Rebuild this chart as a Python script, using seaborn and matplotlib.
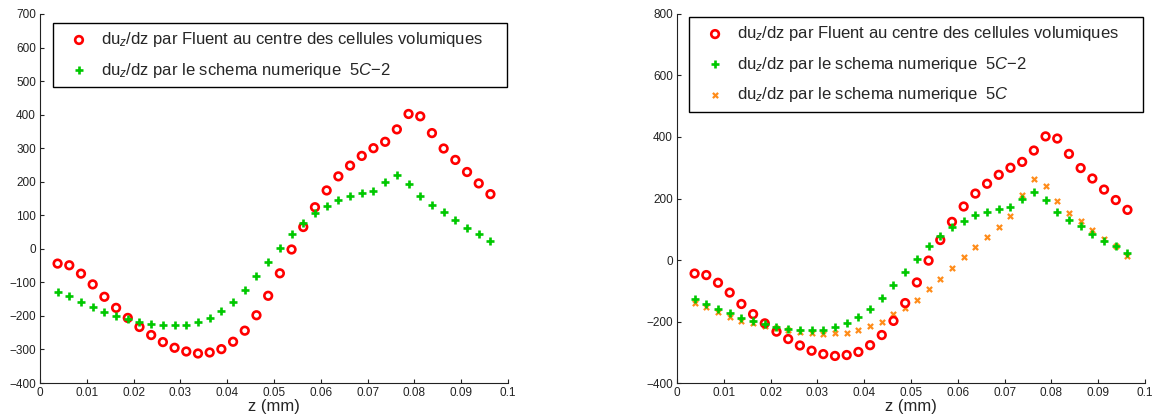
import numpy as np
import pandas as pd
import matplotlib
matplotlib.use('Agg')
import matplotlib.pyplot as plt
import seaborn as sns

# z positions (mm), cell centres
z_start, z_step, n_pts = 0.00375, 0.0025, 38
z = np.round(z_start + z_step * np.arange(n_pts), 5)

# du_z/dz from Fluent (cell centres)
fluent = [-44, -49, -74, -106, -143, -176, -206, -233, -257, -278,
          -295, -306, -312, -309, -299, -277, -244, -198, -140, -73,
          -2, 65, 124, 174, 216, 248, 277, 300, 319, 356,
          402, 395, 345, 299, 265, 229, 195, 163]

# numerical scheme 5C-2
scheme_5c2 = [-128, -142, -158, -173, -187, -199, -208, -218, -224, -228,
              -228, -226, -217, -205, -185, -158, -123, -82, -40, 3,
              44, 78, 106, 128, 146, 156, 166, 171, 200, 221,
              194, 156, 130, 109, 86, 61, 45, 24]

# numerical scheme 5C
scheme_5c = [-141, -153, -170, -186, -197, -206, -216, -222, -228, -234,
             -237, -240, -238, -236, -228, -216, -200, -177, -157, -129,
             -95, -61, -26, 11, 42, 75, 106, 143, 212, 262,
             241, 191, 154, 127, 98, 68, 44, 13]

x_ticks = [0, 0.01, 0.02, 0.03, 0.04, 0.05, 0.06, 0.07, 0.08, 0.09, 0.1]
x_tick_labels = ['0', '0.01', '0.02', '0.03', '0.04', '0.05', '0.06',
                 '0.07', '0.08', '0.09', '0.1']
y_ticks_left = list(range(-400, 701, 100))
y_ticks_right = list(range(-400, 801, 200))

lbl_fluent = r'du$_z$/dz par Fluent au centre des cellules volumiques'
lbl_5c2 = r'du$_z$/dz par le schema numerique  $\mathit{5C{-}2}$'
lbl_5c = r'du$_z$/dz par le schema numerique  $\mathit{5C}$'

RED = '#ff0000'
GREEN = '#00c800'
ORANGE = '#ff8c1a'

sns.set_style('ticks')
plt.rcParams['font.family'] = ['Liberation Sans', 'DejaVu Sans']
plt.rcParams['mathtext.fontset'] = 'custom'
plt.rcParams['mathtext.rm'] = 'Liberation Sans'
plt.rcParams['mathtext.it'] = 'Liberation Sans:italic'
plt.rcParams['axes.unicode_minus'] = True

df = pd.DataFrame({'z': z, 'fluent': fluent, '5c2': scheme_5c2, '5c': scheme_5c})


def draw_series(ax, col, label, kind):
    if kind == 'o':
        sns.scatterplot(data=df, x='z', y=col, ax=ax, marker='o', s=30,
                        facecolors='none', edgecolor=RED, linewidth=1.9,
                        label=label, zorder=3)
    elif kind == '+':
        sns.scatterplot(data=df, x='z', y=col, ax=ax, marker='+', s=30,
                        color=GREEN, linewidth=1.9, label=label, zorder=4)
    else:
        sns.scatterplot(data=df, x='z', y=col, ax=ax, marker='x', s=14,
                        color=ORANGE, linewidth=1.6, label=label, zorder=2)


def style_axes(ax, yticks, ylim):
    ax.set_xlim(0, 0.1)
    ax.set_ylim(*ylim)
    ax.set_xticks(x_ticks)
    ax.set_xticklabels(x_tick_labels)
    ax.set_yticks(yticks)
    ax.set_yticklabels([f'{v}'.replace('-', '\u2212') for v in yticks])
    ax.tick_params(direction='in', length=3, width=0.8, labelsize=8.5,
                   colors='#222222', pad=3)
    ax.set_xlabel('z (mm)', fontsize=12, labelpad=0)
    ax.set_ylabel('')
    for sp in ['left', 'bottom']:
        ax.spines[sp].set_color('#222222')
        ax.spines[sp].set_linewidth(0.8)
    sns.despine(ax=ax)


fig = plt.figure(figsize=(11.54, 4.19), dpi=100)
ax1 = fig.add_axes([0.0347, 0.0859, 0.4055, 0.8807])
ax2 = fig.add_axes([0.5867, 0.0859, 0.4055, 0.8807])

draw_series(ax1, 'fluent', lbl_fluent, 'o')
draw_series(ax1, '5c2', lbl_5c2, '+')
style_axes(ax1, y_ticks_left, (-400, 700))

draw_series(ax2, 'fluent', lbl_fluent, 'o')
draw_series(ax2, '5c2', lbl_5c2, '+')
draw_series(ax2, '5c', lbl_5c, 'x')
style_axes(ax2, y_ticks_right, (-400, 800))

leg_kw = dict(loc='upper left', mode='expand', fancybox=False, framealpha=1,
              edgecolor='black', fontsize=12, borderaxespad=0,
              handletextpad=0.2, handlelength=2.2, labelspacing=0.68,
              borderpad=0.45, markerscale=1.0)
l1 = ax1.legend(bbox_to_anchor=(0.028, 0.976, 0.97, 0), **leg_kw)
l2 = ax2.legend(bbox_to_anchor=(0.026, 0.992, 0.97, 0), **leg_kw)
for leg in (l1, l2):
    leg.get_frame().set_linewidth(1.0)

fig.savefig('out.png', dpi=100)
